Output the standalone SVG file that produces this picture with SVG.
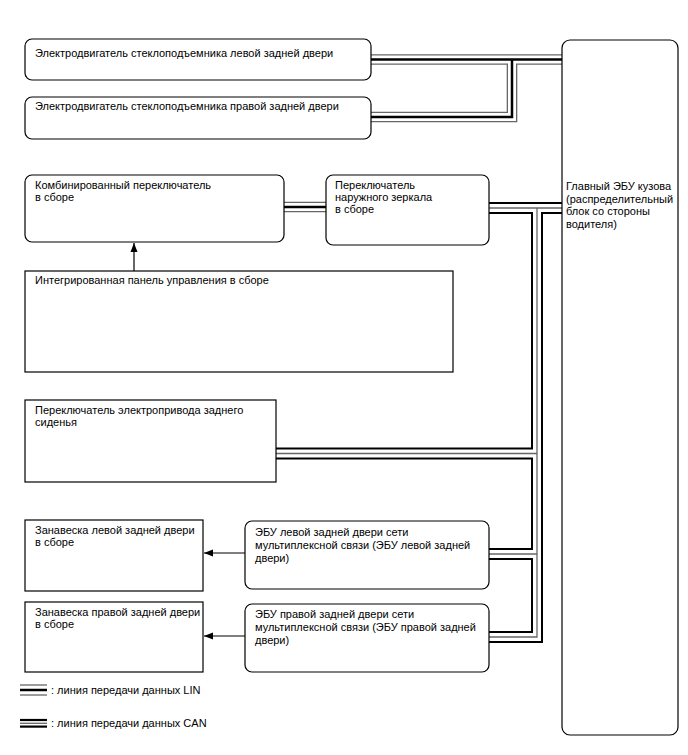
<svg xmlns="http://www.w3.org/2000/svg" xmlns:xlink="http://www.w3.org/1999/xlink" width="688" height="755" viewBox="0 0 688 755">
<style>
  text { font-family: "Liberation Sans", Arial, sans-serif; font-size: 11px; fill: #000; }
  .box { fill: #fff; stroke: #000; stroke-width: 1.2; }
  .lin-o { fill: none; stroke: #666; stroke-width: 10.6; }
  .lin-m { fill: none; stroke: #fff; stroke-width: 8; }
  .lin-i { fill: none; stroke: #000; stroke-width: 2.5; }
  .can-o { fill: none; stroke: #000; stroke-width: 12; }
  .can-m { fill: none; stroke: #fff; stroke-width: 8; }
  .can-i { fill: none; stroke: #666; stroke-width: 1.3; }
  .arrow { fill: none; stroke: #000; stroke-width: 1.2; marker-end: url(#ah); }
  .lg-g { stroke: #666; stroke-width: 1.3; }
  .lg-b { stroke: #000; }
</style>
<defs>
  <marker id="ah" markerUnits="userSpaceOnUse" markerWidth="10" markerHeight="8" refX="9" refY="4" orient="auto">
    <path d="M0,0.5 L9,4 L0,7.5 z" fill="#000"/>
  </marker>
  <path id="lin1" d="M368,59.5 H566"/>
  <path id="lin2" d="M368,117 H512 V59.5"/>
  <path id="lin3" d="M282,207 H328"/>
  <path id="can1" d="M487,208 H566"/>
  <path id="can2" d="M537,208 V637 H487"/>
  <path id="can3" d="M487,554 H537"/>
  <path id="can4" d="M272,453.5 H537"/>
</defs>
<rect width="688" height="755" fill="#fff"/>
<g id="connectors">
  <g class="lin-o"><use xlink:href="#lin1"/><use xlink:href="#lin2"/><use xlink:href="#lin3"/></g>
  <g class="lin-m"><use xlink:href="#lin1"/><use xlink:href="#lin2"/><use xlink:href="#lin3"/></g>
  <g class="lin-i"><use xlink:href="#lin1"/><use xlink:href="#lin2"/><use xlink:href="#lin3"/></g>
  <g class="can-o"><use xlink:href="#can1"/><use xlink:href="#can2"/><use xlink:href="#can3"/><use xlink:href="#can4"/></g>
  <g class="can-m"><use xlink:href="#can1"/><use xlink:href="#can2"/><use xlink:href="#can3"/><use xlink:href="#can4"/></g>
  <g class="can-i"><use xlink:href="#can1"/><use xlink:href="#can2"/><use xlink:href="#can3"/><use xlink:href="#can4"/></g>
  <line class="arrow" x1="134" y1="271" x2="134" y2="243"/>
  <line class="arrow" x1="245" y1="553" x2="204" y2="553"/>
  <line class="arrow" x1="245" y1="636" x2="204" y2="636"/>
</g>
<g id="motor-left">
  <rect class="box" x="25" y="39" width="346" height="41" rx="7"/>
  <text x="35" y="57">Электродвигатель стеклоподъемника левой задней двери</text>
</g>
<g id="motor-right">
  <rect class="box" x="25" y="97" width="346" height="42" rx="7"/>
  <text x="35" y="110">Электродвигатель стеклоподъемника правой задней двери</text>
</g>
<g id="main-ecu">
  <rect class="box" x="562" y="40" width="116" height="695" rx="8"/>
  <text x="566" y="190">Главный ЭБУ кузова</text>
  <text x="566" y="202.5">(распределительный</text>
  <text x="566" y="215">блок со стороны</text>
  <text x="566" y="227.5">водителя)</text>
</g>
<g id="combo-switch">
  <rect class="box" x="25" y="175" width="259" height="67" rx="7"/>
  <text x="35" y="189">Комбинированный переключатель</text>
  <text x="35" y="201">в сборе</text>
</g>
<g id="mirror-switch">
  <rect class="box" x="326" y="175" width="163" height="70" rx="7"/>
  <text x="335" y="188.5">Переключатель</text>
  <text x="335" y="200.5">наружного зеркала</text>
  <text x="335" y="212.5">в сборе</text>
</g>
<g id="integrated-panel">
  <rect class="box" x="25" y="271" width="428" height="101"/>
  <text x="35" y="284">Интегрированная панель управления в сборе</text>
</g>
<g id="rear-seat-switch">
  <rect class="box" x="25" y="400" width="251" height="82"/>
  <text x="35" y="414">Переключатель электропривода заднего</text>
  <text x="35" y="426">сиденья</text>
</g>
<g id="curtain-left">
  <rect class="box" x="25" y="520" width="178" height="71"/>
  <text x="35" y="534">Занавеска левой задней двери</text>
  <text x="35" y="546">в сборе</text>
</g>
<g id="door-ecu-left">
  <rect class="box" x="245" y="521" width="244" height="68" rx="7"/>
  <text x="255" y="536">ЭБУ левой задней двери сети</text>
  <text x="255" y="549">мультиплексной связи (ЭБУ левой задней</text>
  <text x="255" y="562">двери)</text>
</g>
<g id="curtain-right">
  <rect class="box" x="25" y="602" width="178" height="70"/>
  <text x="35" y="616">Занавеска правой задней двери</text>
  <text x="35" y="628">в сборе</text>
</g>
<g id="door-ecu-right">
  <rect class="box" x="245" y="604" width="244" height="68" rx="7"/>
  <text x="255" y="618">ЭБУ правой задней двери сети</text>
  <text x="255" y="631">мультиплексной связи (ЭБУ правой задней</text>
  <text x="255" y="644">двери)</text>
</g>
<g id="legend">
  <line class="lg-g" x1="20" y1="685" x2="47" y2="685"/>
  <line class="lg-b" x1="20" y1="690" x2="47" y2="690" stroke-width="2.5"/>
  <line class="lg-g" x1="20" y1="695" x2="47" y2="695"/>
  <text x="51" y="694">: линия передачи данных LIN</text>
  <line class="lg-b" x1="20" y1="720" x2="47" y2="720" stroke-width="2.2"/>
  <line class="lg-g" x1="20" y1="723.3" x2="47" y2="723.3"/>
  <line class="lg-b" x1="20" y1="726.6" x2="47" y2="726.6" stroke-width="2.2"/>
  <text x="51" y="727">: линия передачи данных CAN</text>
</g>
</svg>
